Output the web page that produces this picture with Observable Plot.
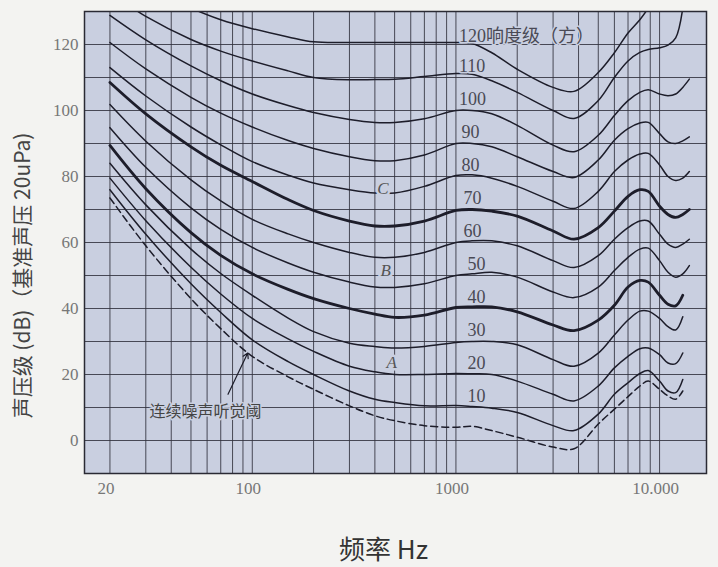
<!DOCTYPE html>
<html><head><meta charset="utf-8">
<script src="https://cdn.jsdelivr.net/npm/d3@7"></script>
<script src="https://cdn.jsdelivr.net/npm/@observablehq/plot@0.6"></script>
<style>
html,body{margin:0;padding:0;background:#f3f3f1;}
#chart{width:718px;height:567px;}
</style></head><body><div id="chart"></div>
<script>
// Frequencies (Hz) at which every contour is sampled
const freqs = [20, 26, 30, 50, 70, 100, 150, 200, 300, 400, 500, 700, 1000, 1200, 1500, 2000, 3000, 3800, 5000, 6000, 7000, 8000, 8800, 10000, 11000, 12000, 13000, 14000];

// Sound pressure level (dB) of each equal-loudness contour (phon)
const phon120 = [null,null,null,131,127.5,124.8,122.3,120.8,120.6,120.6,120.6,120.6,120.6,120.3,117.5,112.5,107,105.8,111.5,117.5,123.5,127.5,131,null,null,null,null,null];
const phon110 = [null,131,128.5,121.5,118,115,112,110,109.3,109.4,109.5,110.3,111.2,111,109,105.5,100,97.6,103,110,115,117.6,118.5,119,119.8,122,131,null];
const phon100 = [128.8,null,121.4,113.5,109,105,101.5,99.4,97.3,96.4,96.4,97.5,100,100,99,95.5,89.5,87.5,92.5,98.5,103,105.5,106.3,105,104.5,105,107,109.5];
const phon90  = [120.6,null,112.6,104,99.2,95,90.9,88.5,86,84.8,84.8,86.5,90,90,89,86,81.5,79.7,85,91,94.5,96.2,96.4,93,90.5,90,90.8,92];
const phon80  = [113,null,104.4,95,89.6,84.5,80.4,78,76,75,75,77,80.3,80.5,79.5,77,72.5,70.3,75.5,81.5,85,86.8,87,83.5,80,78.8,79.5,81.5];
const phon70  = [108.5,null,99,89,83.4,78.5,73,69.7,66.5,65,65,66.5,69.7,70,69.5,68,63.5,61,64.5,69.5,74,76,75.5,71,68.5,67.6,68.5,70];
const phon60  = [101.8,null,90.7,79,72.6,67,62.6,60,57,55.5,55.5,57,60,60.5,60.5,59,54.5,52.4,56,61,64.5,66.5,66.5,62.5,59.5,58.5,59.5,61];
const phon50  = [94.8,null,82.8,70.5,64,58.5,53.8,51,48,46.5,46.4,47.5,50,50.5,51,49.5,45,43.3,46.5,51.5,55.5,58,58.3,54.5,51,49.5,50.5,53];
const phon40  = [89.4,null,76.3,63,56.1,50.5,45.8,43,40,38.3,37.3,38,40.3,40.5,40.5,39,35,33.3,36.5,41,46.5,48.5,48,44,41.3,40.8,44,null];
const phon30  = [84,null,71.4,58,50.6,44,37.1,33,29.5,28.5,28,28.5,29.7,30,30,29,24.5,22.5,26.5,32,36.5,39.2,39.2,37,34.5,33.5,37.5,null];
const phon20  = [79.5,null,66.6,52.5,44.4,37,30.8,27,22.5,20.8,20,20,20.3,20.2,20,18,14,12,16.5,22,25.5,27.8,28,26,23.5,23.3,26.5,null];
const phon10  = [76,null,62.5,47.5,38.8,30.5,23.9,20,15,12.5,11.5,10.5,10.6,10.3,9.8,8.5,4.5,3,8,14,17.5,20.3,21.2,18,15,14.5,18.5,null];
const threshold = [73.5,null,59,43,33.9,25.5,19.3,15.5,10.5,7.5,6,4.5,4,4.3,3,1,-2,-2.5,5,9.5,13.3,16.5,18,15.5,13.5,12.5,15,null];

const phonLevels = [120,110,100,90,80,70,60,50,40,30,20,10];
const phonSeries = [phon120,phon110,phon100,phon90,phon80,phon70,phon60,phon50,phon40,phon30,phon20,phon10];
const thickPhons = [70, 40];

const phonLabels = ["120响度级（方）","110","100","90","80","70","60","50","40","30","20","10"];
const weightLetters = ["C","B","A"];
const weightPhon = [80, 55, 27];        // level next to each weighting letter
const weightFreq = [438, 452, 484];

const xTicks = [20, 100, 1000, 5000, 10000];
const xTickText = ["20", "100", "1000", "5000", "10.000"];
const yTicks = [0, 20, 40, 60, 80, 100, 120];
const gridFreqs = [20,30,40,50,60,70,80,90,100,200,300,400,500,600,700,800,900,1000,2000,3000,4000,5000,6000,7000,8000,9000,10000];
const gridLevels = [0,10,20,30,40,50,60,70,80,90,100,110,120];

const thresholdNote = "连续噪声听觉阈";
const noteAt = {f: 59, db: 8.8};
const arrowFrom = {f: 76, db: 14};
const arrowTo = {f: 95, db: 26.5};

const yTitle = "声压级 (dB)（基准声压 20uPa)";
const xTitle = "频率 Hz";

// Build tidy rows
const rows = [];
phonSeries.forEach((arr, i) => {
  arr.forEach((v, j) => { if (v !== null) rows.push({curve: "p" + phonLevels[i], phon: phonLevels[i], f: freqs[j], db: v}); });
});
const thrRows = [];
threshold.forEach((v, j) => { if (v !== null) thrRows.push({f: freqs[j], db: v}); });

const labelRows = phonLevels.map((p, i) => ({
  text: phonLabels[i],
  f: p >= 100 ? 1035 : p >= 80 ? 1065 : p >= 60 ? 1090 : 1140,
  db: p === 120 ? 122.4 : p + 3.3
}));
const letterRows = weightLetters.map((t, i) => ({text: t, f: weightFreq[i], db: weightPhon[i] - 3.5}));

const BG = "#c9cfe0";
const INK = "#1d1d2a";
const GRID = "#30303c";
const SERIF = "'Liberation Serif', 'DejaVu Serif', serif";
const CJK = "'Noto Sans CJK SC', sans-serif";

const chart = Plot.plot({
  width: 718, height: 567,
  marginLeft: 84, marginRight: 12, marginTop: 11, marginBottom: 94,
  style: {background: "transparent", fontFamily: SERIF},
  x: {type: "log", domain: [15, 17000], label: null},
  y: {domain: [-10, 130], label: null},
  marks: [
    Plot.frame({fill: BG, stroke: null}),
    Plot.ruleX(gridFreqs, {stroke: GRID, strokeWidth: 1, strokeOpacity: 0.85}),
    Plot.ruleY(gridLevels, {stroke: GRID, strokeWidth: 1, strokeOpacity: 0.85}),
    Plot.line(rows.filter(d => !thickPhons.includes(d.phon)), {x: "f", y: "db", z: "curve", curve: "catmull-rom", stroke: INK, strokeWidth: 1.5, clip: true}),
    Plot.line(rows.filter(d => thickPhons.includes(d.phon)), {x: "f", y: "db", z: "curve", curve: "catmull-rom", stroke: INK, strokeWidth: 2.8, clip: true}),
    Plot.line(thrRows, {x: "f", y: "db", curve: "catmull-rom", stroke: INK, strokeWidth: 1.5, strokeDasharray: "7,4", clip: true}),
    Plot.text(labelRows, {x: "f", y: "db", text: "text", textAnchor: "start", fontSize: 18, fill: "#4a4a55", fontFamily: SERIF + ", " + CJK, stroke: BG, strokeWidth: 3, paintOrder: "stroke"}),
    Plot.text(letterRows, {x: "f", y: "db", text: "text", fontSize: 17, fontStyle: "italic", fill: "#555", stroke: BG, strokeWidth: 5, paintOrder: "stroke"}),
    Plot.text([thresholdNote], {x: () => noteAt.f, y: () => noteAt.db, fontSize: 16, fontFamily: CJK, fill: "#444", stroke: BG, strokeWidth: 3, paintOrder: "stroke"}),
    Plot.arrow([0], {x1: () => arrowFrom.f, y1: () => arrowFrom.db, x2: () => arrowTo.f, y2: () => arrowTo.db, stroke: INK, strokeWidth: 1.2, headLength: 7}),
    Plot.frame({stroke: "#2a2a34", strokeWidth: 1.5}),
    Plot.axisY({ticks: yTicks, tickSize: 0, tickPadding: 6, fontSize: 17, fill: "#777", fontFamily: SERIF, label: null}),
    Plot.axisX({ticks: xTicks, tickFormat: d => xTickText[xTicks.indexOf(d)], tickSize: 0, tickPadding: 8, dx: -4, fontSize: 17, fill: "#777", fontFamily: SERIF, label: null}),
    Plot.text([yTitle], {frameAnchor: "left", textAnchor: "middle", lineAnchor: "middle", dx: -61, dy: 33, rotate: -90, fontSize: 21, fontFamily: CJK, fill: "#444"}),
    Plot.text([xTitle], {frameAnchor: "bottom", textAnchor: "middle", lineAnchor: "middle", dx: -12, dy: 77, fontSize: 26, fontFamily: CJK, fill: "#333"})
  ]
});
document.getElementById("chart").appendChild(chart);
</script>
</body></html>
